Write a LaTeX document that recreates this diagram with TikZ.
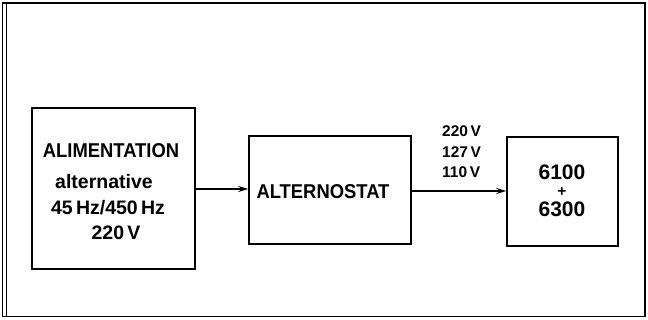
\documentclass[tikz,border=0pt]{standalone}
\usepackage{fontspec}
\setmainfont{Liberation Sans}
\newfontfamily\etroit[FakeStretch=0.92]{Liberation Sans}
\usepackage{tikz}
\usetikzlibrary{arrows.meta}

\begin{document}
\begin{tikzpicture}[x=1pt,y=-1pt,
        bloc/.style={draw,line width=1.6pt,inner sep=0pt},
        fleche/.style={line width=1.1pt,-{Stealth[length=10pt,width=6pt]}},
        grand/.style={font=\etroit\fontsize{20}{22}\selectfont\bfseries,inner sep=0pt,anchor=base},
        moyen/.style={font=\fontsize{19.5}{22}\selectfont\bfseries,inner sep=0pt,anchor=base},
        volts/.style={font=\fontsize{15.5}{17}\selectfont\bfseries,inner sep=0pt,anchor=base west},
        chiffre/.style={font=\fontsize{21}{23}\selectfont\bfseries,inner sep=0pt,anchor=base}]
        \useasboundingbox (0,0) rectangle (648,320);
        % cadre
        \draw[line width=1.4pt] (2.5,3) rectangle (645,316.5);
        \draw[line width=1pt] (6.5,3) -- (6.5,316.5);

        % blocs
        \node[bloc,minimum width=163pt,minimum height=161pt] (alim) at (113.5,188.5) {};
        \node[bloc,minimum width=162pt,minimum height=108pt] (alter) at (330,190) {};
        \node[bloc,minimum width=111pt,minimum height=109pt] (util) at (562.5,191.5) {};

        % textes
        \node[grand] (alimA) at (111,158) {ALIMENTATION};
        \node[moyen] (alimB) at (104,189) {alternative};
        \node[moyen] (alimC) at (108,215) {45\,Hz/450\,Hz};
        \node[moyen] (alimD) at (116,240) {220\,V};
        \node[grand] (alterA) at (323,199) {ALTERNOSTAT};
        \node[chiffre] (utilA) at (562,180) {6100};
        \node[font=\fontsize{15.5}{16}\selectfont\bfseries,inner sep=0pt] (utilB) at (562,191.5) {+};
        \node[chiffre] (utilC) at (562,217) {6300};
        \node[volts] (vA) at (442,137) {220\,V};
        \node[volts] (vB) at (442,158) {127\,V};
        \node[volts] (vC) at (442,178) {110\,V};

        % liaisons
        \draw[fleche] (alim.east |- 0,189) -- (alter.west |- 0,189);
        \draw[fleche] (alter.east |- 0,191) -- (util.west |- 0,191);
\end{tikzpicture}
\end{document}
